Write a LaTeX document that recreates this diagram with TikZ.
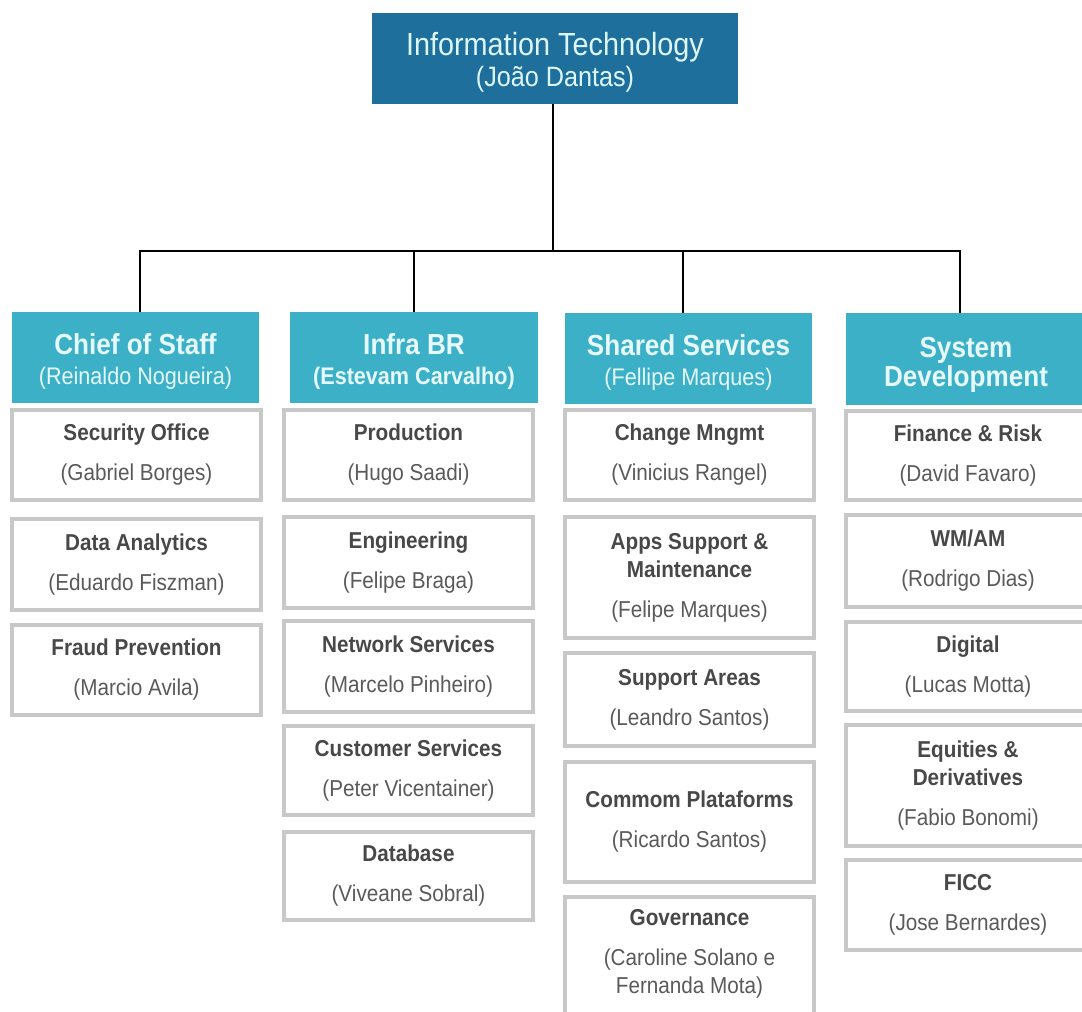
\documentclass[tikz,border=0pt]{standalone}
\usepackage{fontspec}
\setmainfont[FakeStretch=0.9]{Liberation Sans}
\definecolor{topblue}{HTML}{1E6F9C}
\definecolor{headteal}{HTML}{3BB0C6}
\definecolor{toptext}{HTML}{DDF6FA}
\definecolor{headtext}{HTML}{E6F9FC}
\definecolor{boxline}{HTML}{C8C8C8}
\definecolor{ctitle}{HTML}{484848}
\definecolor{csub}{HTML}{5A5A5A}
% \orgbox[dy]{kind}{name}{x1}{y1}{x2}{y2}{text}
\newcommand\orgbox[8][0]{%
  \node[#2 box, minimum width={(#6-#4)*1pt}, minimum height={(#7-#5)*1pt}] (#3) at ({(#4+#6)/2},{(#5+#7)/2}) {};
  \node[#2 txt] (#3t) at ({(#4+#6)/2},{(#5+#7)/2+#1}) {#8};}
\newcommand\ct[1]{\textcolor{ctitle}{\bfseries #1}}
\newcommand\cs[1]{\textcolor{csub}{#1}}
\begin{document}
\begin{tikzpicture}[x=1pt,y=-1pt,
  top box/.style={fill=topblue, draw=none, inner sep=0pt},
  top txt/.style={inner sep=0pt, align=center, text=toptext, font=\fontsize{32}{30}\selectfont},
  head box/.style={fill=headteal, draw=none, inner sep=0pt},
  head txt/.style={inner sep=0pt, align=center, text=headtext, font=\fontsize{29}{29}\selectfont},
  child box/.style={fill=white, draw=boxline, line width=3.5pt, inner sep=0pt},
  child txt/.style={inner sep=0pt, align=center, font=\fontsize{23}{28}\selectfont},
  conn/.style={draw=black, line width=2pt}]
\useasboundingbox (0,0) rectangle (1082,1012);
\clip (0,0) rectangle (1082,1012);
\fill[white] (0,0) rectangle (1082,1012);

% top
\orgbox[4]{top}{top}{372}{13}{738}{104}{Information Technology\\[1pt]{\fontsize{28}{28}\selectfont (João Dantas)}}

% headers
\orgbox[4]{head}{h1}{12}{312}{259}{403}{\textbf{Chief of Staff}\\[1pt]{\fontsize{24}{24}\selectfont (Reinaldo Nogueira)}}
\orgbox[4]{head}{h2}{290}{312}{538}{403}{\textbf{Infra BR}\\[1pt]{\fontsize{24}{24}\selectfont\bfseries (Estevam Carvalho)}}
\orgbox[4]{head}{h3}{565}{313}{812}{404}{\textbf{Shared Services}\\[1pt]{\fontsize{24}{24}\selectfont (Fellipe Marques)}}
\orgbox[6]{head}{h4}{846}{313}{1086}{405}{\textbf{System}\\\textbf{Development}}

% connectors
\coordinate (bus) at (553,251);
\draw[conn] ([xshift=-2pt]top.south) -- ([xshift=-2pt]top.south |- bus);
\draw[conn] ([xshift=4.5pt]h1.north) |- (bus) -| ([xshift=-6pt]h4.north);
\draw[conn] (h2.north) -- (h2.north |- bus);
\draw[conn] ([xshift=-5.5pt]h3.north) -- ([xshift=-5.5pt]h3.north |- bus);

% column 1
\orgbox{child}{c11}{12}{410}{261}{500}{\ct{Security Office}\\[12pt]\cs{(Gabriel Borges)}}
\orgbox{child}{c12}{12}{519}{261}{610}{\ct{Data Analytics}\\[12pt]\cs{(Eduardo Fiszman)}}
\orgbox{child}{c13}{12}{625}{261}{715}{\ct{Fraud Prevention}\\[12pt]\cs{(Marcio Avila)}}

% column 2
\orgbox{child}{c21}{284}{410}{533}{500}{\ct{Production}\\[12pt]\cs{(Hugo Saadi)}}
\orgbox{child}{c22}{284}{517}{533}{608}{\ct{Engineering}\\[12pt]\cs{(Felipe Braga)}}
\orgbox{child}{c23}{284}{621}{533}{712}{\ct{Network Services}\\[12pt]\cs{(Marcelo Pinheiro)}}
\orgbox{child}{c24}{284}{726}{533}{815}{\ct{Customer Services}\\[12pt]\cs{(Peter Vicentainer)}}
\orgbox{child}{c25}{284}{832}{533}{920}{\ct{Database}\\[12pt]\cs{(Viveane Sobral)}}

% column 3
\orgbox{child}{c31}{565}{410}{814}{500}{\ct{Change Mngmt}\\[12pt]\cs{(Vinicius Rangel)}}
\orgbox{child}{c32}{565}{517}{814}{638}{\ct{Apps Support \&}\\\ct{Maintenance}\\[12pt]\cs{(Felipe Marques)}}
\orgbox{child}{c33}{565}{653}{814}{746}{\ct{Support Areas}\\[12pt]\cs{(Leandro Santos)}}
\orgbox{child}{c34}{565}{762}{814}{882}{\ct{Commom Plataforms}\\[12pt]\cs{(Ricardo Santos)}}
\orgbox[-4]{child}{c35}{565}{897}{814}{1018}{\ct{Governance}\\[12pt]\cs{(Caroline Solano e}\\\cs{Fernanda Mota)}}

% column 4
\orgbox{child}{c41}{846}{411}{1090}{500}{\ct{Finance \& Risk}\\[12pt]\cs{(David Favaro)}}
\orgbox{child}{c42}{846}{515}{1090}{607}{\ct{WM/AM}\\[12pt]\cs{(Rodrigo Dias)}}
\orgbox{child}{c43}{846}{622}{1090}{711}{\ct{Digital}\\[12pt]\cs{(Lucas Motta)}}
\orgbox{child}{c44}{846}{725}{1090}{846}{\ct{Equities \&}\\\ct{Derivatives}\\[12pt]\cs{(Fabio Bonomi)}}
\orgbox{child}{c45}{846}{860}{1090}{950}{\ct{FICC}\\[12pt]\cs{(Jose Bernardes)}}
\end{tikzpicture}
\end{document}
